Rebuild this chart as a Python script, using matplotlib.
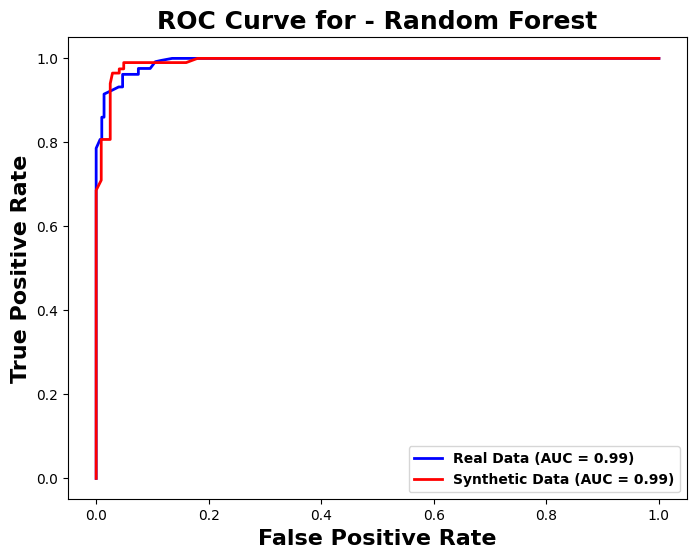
import matplotlib
matplotlib.use('Agg')
import matplotlib.pyplot as plt

# ROC points
real_fpr = [0.0, 0.0, 0.007, 0.010, 0.010, 0.014, 0.014, 0.025, 0.040, 0.047, 0.047,
            0.075, 0.075, 0.096, 0.105, 0.115, 0.135, 1.0]
real_tpr = [0.0, 0.786, 0.807, 0.807, 0.860, 0.860, 0.915, 0.922, 0.932, 0.932, 0.962,
            0.962, 0.976, 0.976, 0.992, 0.995, 1.0, 1.0]
real_auc = 0.99

syn_fpr = [0.0, 0.0, 0.009, 0.009, 0.025, 0.025, 0.029, 0.041, 0.041, 0.049, 0.049,
           0.160, 0.180, 1.0]
syn_tpr = [0.0, 0.686, 0.710, 0.807, 0.807, 0.940, 0.965, 0.965, 0.975, 0.975, 0.990,
           0.990, 1.0, 1.0]
syn_auc = 0.99

model_name = 'Random Forest'

fig, ax = plt.subplots(figsize=(6.97, 5.58), dpi=100)
fig.subplots_adjust(left=0.0976, right=0.9857, top=0.933, bottom=0.105)

ax.plot(real_fpr, real_tpr, color='blue', lw=2, label=f'Real Data (AUC = {real_auc:.2f})')
ax.plot(syn_fpr, syn_tpr, color='red', lw=2, label=f'Synthetic Data (AUC = {syn_auc:.2f})')

ax.set_xlabel('False Positive Rate', fontsize=16, fontweight='bold')
ax.set_ylabel('True Positive Rate', fontsize=16, fontweight='bold')
ax.set_title(f'ROC Curve for - {model_name}', fontsize=18, fontweight='bold')
ax.legend(loc='lower right', prop={'weight': 'bold'})

fig.savefig('out.png', dpi=100)
